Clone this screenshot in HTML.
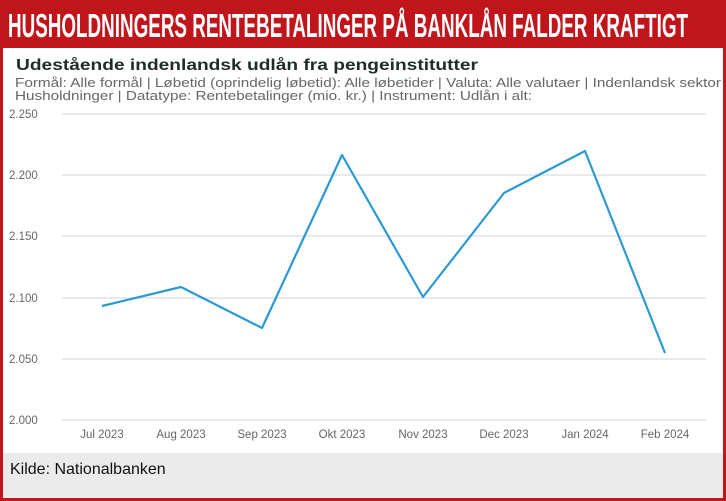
<!DOCTYPE html>
<html><head><meta charset="utf-8"><style>
body{margin:0;width:726px;height:501px;overflow:hidden;background:#fff;font-family:"Liberation Sans",sans-serif}
</style></head><body>
<svg width="726" height="501" xmlns="http://www.w3.org/2000/svg" style="position:absolute;left:0;top:0">
<rect x="0" y="0" width="726" height="501" fill="#c0161b"/>
<rect x="3" y="48" width="720" height="450" fill="#fff"/>
<rect x="3" y="453" width="720" height="45" fill="#ebebeb"/>
<text x="8" y="37" font-family="Liberation Sans Narrow, Liberation Sans, sans-serif" font-weight="bold" font-size="33" fill="#fff" textLength="680" lengthAdjust="spacingAndGlyphs">HUSHOLDNINGERS RENTEBETALINGER PÅ BANKLÅN FALDER KRAFTIGT</text>
<text x="16" y="70" font-size="15.5" font-weight="bold" fill="#1e2d2a" textLength="462" lengthAdjust="spacingAndGlyphs">Udestående indenlandsk udlån fra pengeinstitutter</text>
<text x="15" y="87" font-size="12.5" fill="#666" textLength="706" lengthAdjust="spacingAndGlyphs">Formål: Alle formål | Løbetid (oprindelig løbetid): Alle løbetider | Valuta: Alle valutaer | Indenlandsk sektor</text>
<text x="15" y="100" font-size="12.5" fill="#666" textLength="517" lengthAdjust="spacingAndGlyphs">Husholdninger | Datatype: Rentebetalinger (mio. kr.) | Instrument: Udlån i alt:</text>
<g stroke="#dde2e8" stroke-width="1.5">
<line x1="62" x2="706" y1="114" y2="114"/><line x1="62" x2="706" y1="175" y2="175"/><line x1="62" x2="706" y1="236" y2="236"/><line x1="62" x2="706" y1="298" y2="298"/><line x1="62" x2="706" y1="359" y2="359"/><line x1="62" x2="706" y1="420" y2="420"/>
</g>
<g font-size="11.5" fill="#666">
<text x="9" y="118">2.250</text><text x="9" y="179">2.200</text><text x="9" y="240">2.150</text><text x="9" y="302">2.100</text><text x="9" y="363">2.050</text><text x="9" y="424">2.000</text>
</g>
<g font-size="11.5" fill="#666" text-anchor="middle">
<text x="102" y="438">Jul 2023</text><text x="181" y="438">Aug 2023</text><text x="262" y="438">Sep 2023</text><text x="342" y="438">Okt 2023</text><text x="423" y="438">Nov 2023</text><text x="504" y="438">Dec 2023</text><text x="585" y="438">Jan 2024</text><text x="665" y="438">Feb 2024</text>
</g>
<polyline fill="none" stroke="#2b9ad2" stroke-width="2.2" stroke-linejoin="round" points="102,306 181,287 262,328 342,155 423,297 504,193 585,151 665,353"/>
<text x="10" y="474" font-size="16" fill="#111" font-family="Liberation Sans Narrow, Liberation Sans, sans-serif">Kilde: Nationalbanken</text>
</svg>
</body></html>
